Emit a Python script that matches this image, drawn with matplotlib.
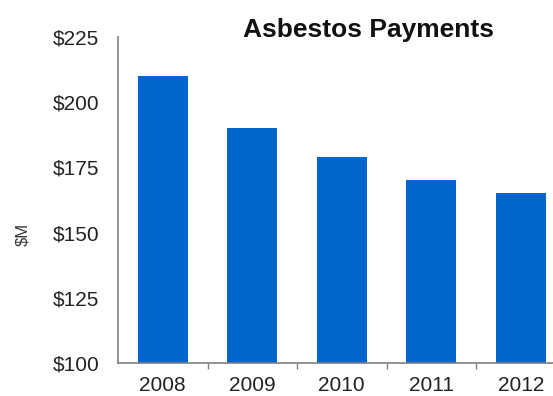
import matplotlib
matplotlib.use("Agg")
import matplotlib.pyplot as plt
import numpy as np

years = ["2008", "2009", "2010", "2011", "2012"]
payments = [210, 190, 179, 170, 165]
y_ticks = [100, 125, 150, 175, 200, 225]
y_tick_labels = ["$100", "$125", "$150", "$175", "$200", "$225"]

plt.rcParams['font.family'] = ['Liberation Sans', 'DejaVu Sans']

fig = plt.figure(figsize=(5.53, 3.96), dpi=100)
# axes run slightly past the right edge of the figure
ax = fig.add_axes([0.2134, 0.0833, 0.8092, 0.8233])

x = np.arange(len(years))
ax.bar(x, payments, width=0.56, color='#0066CC', zorder=2)

ax.set_xlim(-0.5, len(years) - 0.5)
ax.set_ylim(100, 225)
ax.set_yticks(y_ticks)
ax.set_yticklabels(y_tick_labels)
ax.set_xticks(x)
ax.set_xticklabels(years)
ax.set_xticks(x[:-1] + 0.5, minor=True)

ax.tick_params(axis='y', length=0, pad=13.5, labelsize=15, labelcolor='#222222')
ax.tick_params(axis='x', which='major', length=0, pad=9.5, labelsize=15, labelcolor='#222222')
ax.tick_params(axis='x', which='minor', length=4, width=1, color='#808080', direction='out')

for side in ['top', 'right']:
    ax.spines[side].set_visible(False)
for side in ['left', 'bottom']:
    ax.spines[side].set_color('#808080')
    ax.spines[side].set_linewidth(1.2)

ax.set_ylabel("$M", fontsize=12, color='#333333')
ax.yaxis.set_label_coords(-0.197, 0.393)

fig.text(0.667, 0.924, "Asbestos Payments", ha='center', va='center',
         fontsize=19, fontweight='bold', color='#111111')

fig.savefig("out.png", dpi=100)
